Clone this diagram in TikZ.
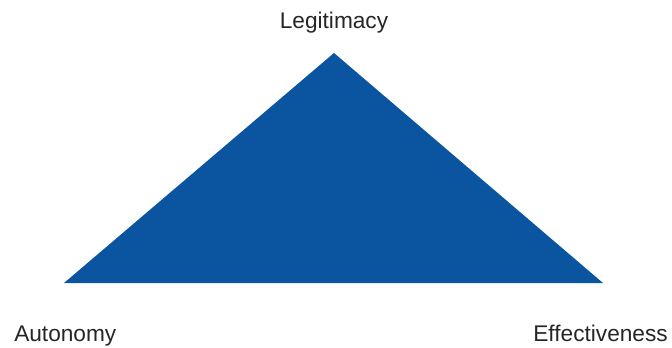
\documentclass[tikz,border=0pt]{standalone}
\usepackage{fontspec}
\setmainfont{Liberation Sans}
\usetikzlibrary{positioning}
\definecolor{triblue}{HTML}{0B54A0}
\tikzset{
x=0.75pt, y=-0.75pt, % one unit is one pixel of the reference
corner/.style={font=\fontsize{17}{20}\selectfont, text=black!85, inner sep=0pt},
}
\begin{document}
\begin{tikzpicture}
\useasboundingbox (0,0) rectangle (672,347);
\coordinate (top) at (334,53);
\coordinate (left) at (64,283);
\coordinate (right) at (603,283);
\fill[triblue] (top) -- (left) -- (right) -- cycle;

\node[corner, anchor=base] (legit) at (334,28) {Legitimacy};
\node[corner, anchor=base west] (auto) at (14,341) {Autonomy};
\node[corner, anchor=base east] (effect) at (668,341) {Effectiveness};
\end{tikzpicture}
\end{document}
